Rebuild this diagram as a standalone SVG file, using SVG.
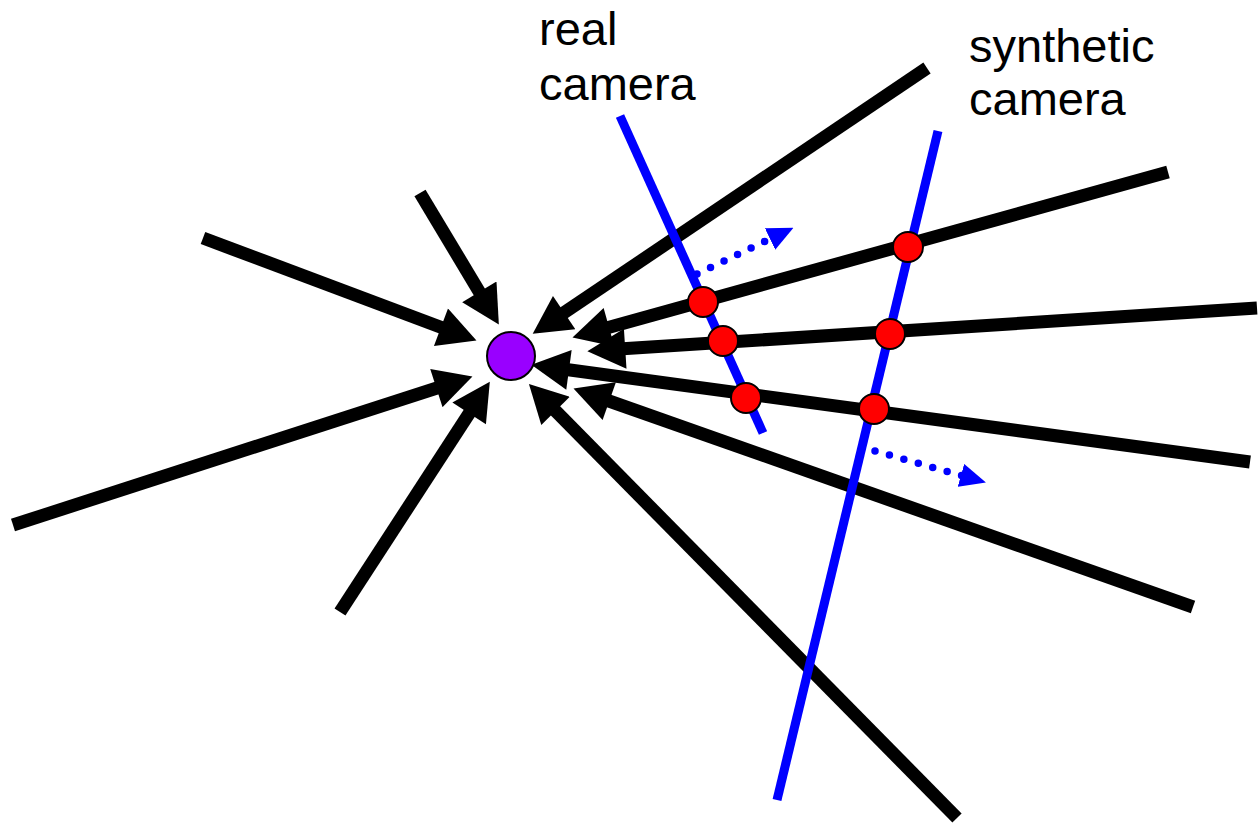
<svg xmlns="http://www.w3.org/2000/svg" width="1259" height="823" viewBox="0 0 1259 823">
<defs>
<style>
.ray{stroke:#000;stroke-width:13;fill:none;marker-end:url(#ah)}
.cam{stroke:#0000ff;stroke-width:9;fill:none}
.dot{stroke:#0000ff;stroke-width:7.5;stroke-linecap:round;stroke-dasharray:0 15;fill:none;marker-end:url(#bh)}
.pt{fill:#ff0000;stroke:#000;stroke-width:2}
.lbl{font-family:"Liberation Sans",Arial,sans-serif;font-size:47px;fill:#000}
</style>
<marker id="ah" markerUnits="userSpaceOnUse" markerWidth="40" markerHeight="40" viewBox="0 0 36 38" refX="6" refY="19" orient="auto">
<path d="M0,0 L36,19 L0,38 z" fill="#000"/>
</marker>
<marker id="bh" markerUnits="userSpaceOnUse" markerWidth="26" markerHeight="24" viewBox="0 0 24 22" refX="2" refY="11" orient="auto">
<path d="M0,0 L24,11 L0,22 z" fill="#0000ff"/>
</marker>
</defs>
<rect width="1259" height="823" fill="#fff"/>
<g id="connectors">
<line class="ray" x1="420" y1="193" x2="482.6" y2="297.3"/>
<line class="ray" x1="203" y1="238" x2="446.9" y2="329.5"/>
<line class="ray" x1="13" y1="525" x2="442.4" y2="386.2"/>
<line class="ray" x1="340" y1="612" x2="472.6" y2="408.1"/>
<line class="ray" x1="957" y1="818" x2="551.1" y2="406.4"/>
<line class="ray" x1="1193" y1="607" x2="603.3" y2="399"/>
<line class="ray" x1="1250" y1="462" x2="562.7" y2="369"/>
<line class="ray" x1="1257" y1="308" x2="618.9" y2="349.1"/>
<line class="ray" x1="1168" y1="172" x2="602.9" y2="329"/>
<line class="ray" x1="927" y1="68" x2="558.9" y2="316.2"/>
</g>
<g id="real-camera">
<line class="cam" x1="620" y1="116" x2="763" y2="433"/>
<text class="lbl" x="539" y="45">real</text>
<text class="lbl" x="539" y="100">camera</text>
</g>
<g id="synthetic-camera">
<line class="cam" x1="938" y1="131" x2="777" y2="800"/>
<text class="lbl" x="969" y="62">synthetic</text>
<text class="lbl" x="969" y="115">camera</text>
</g>
<g id="motion-arrows">
<path class="dot" d="M697,274 L772,238"/>
<path class="dot" d="M875,451 L963,476"/>
</g>
<g id="point">
<circle cx="511" cy="356" r="24" fill="#9900ff" stroke="#000" stroke-width="2"/>
</g>
<g id="samples">
<circle class="pt" cx="703" cy="302" r="15"/>
<circle class="pt" cx="723" cy="341" r="15"/>
<circle class="pt" cx="746" cy="398" r="15"/>
<circle class="pt" cx="908" cy="247" r="15"/>
<circle class="pt" cx="890" cy="334" r="15"/>
<circle class="pt" cx="874" cy="409" r="15"/>
</g>
</svg>
